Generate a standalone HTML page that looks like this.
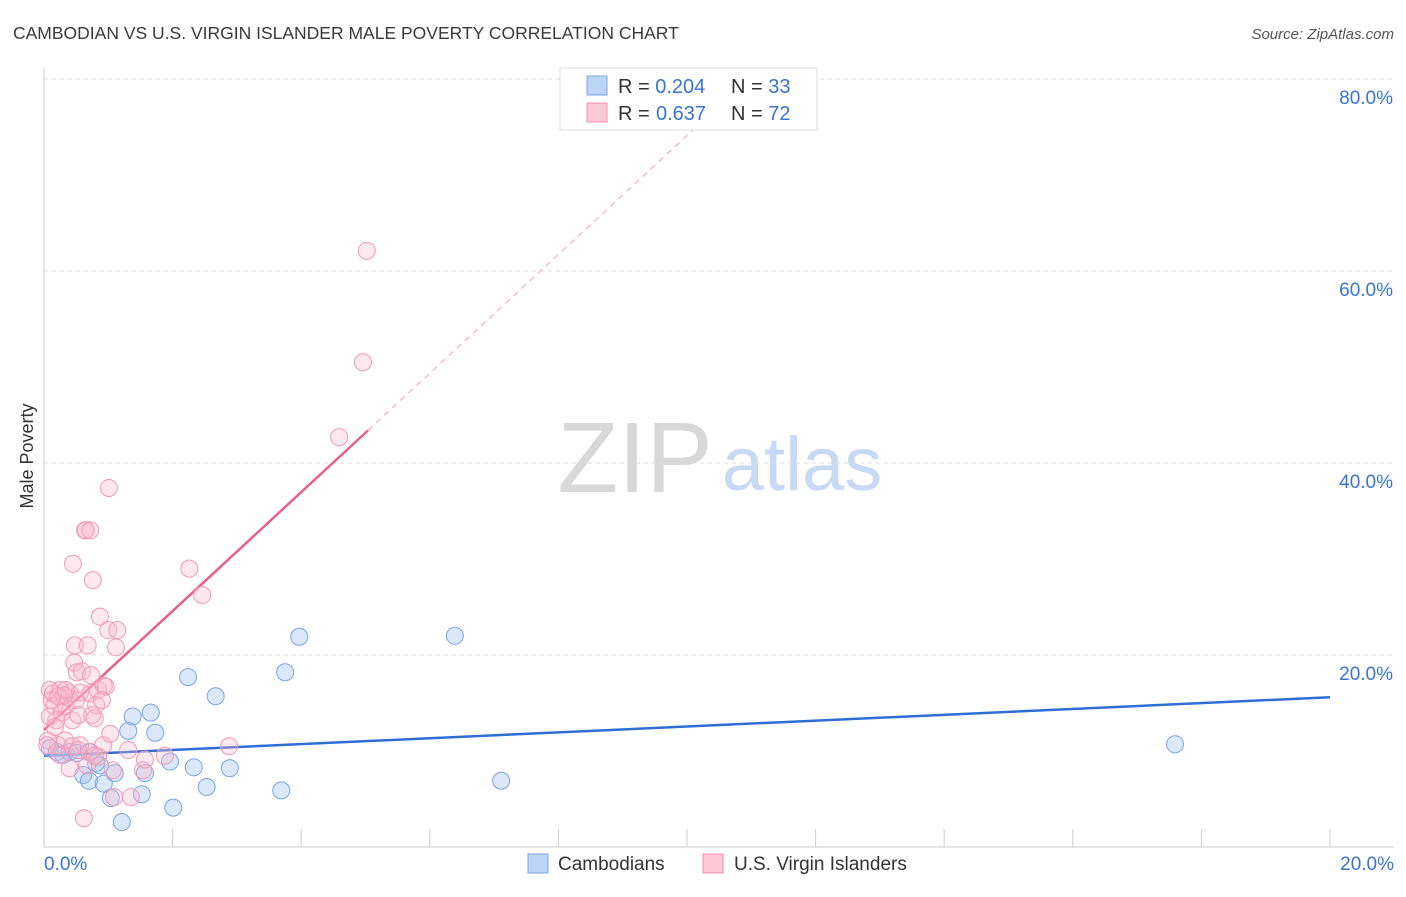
<!DOCTYPE html>
<html><head><meta charset="utf-8"><style>
body{margin:0;background:#fff;font-family:"Liberation Sans",sans-serif;}
svg text{font-family:"Liberation Sans",sans-serif;}
</style></head><body>
<svg id="chart" width="1406" height="892" xmlns="http://www.w3.org/2000/svg">
<text x="13" y="39" font-size="17.5" fill="#3a3a3a">CAMBODIAN VS U.S. VIRGIN ISLANDER MALE POVERTY CORRELATION CHART</text>
<text x="1394" y="39" font-size="15" fill="#555" font-style="italic" text-anchor="end">Source: ZipAtlas.com</text>
<text transform="translate(33,456) rotate(-90)" font-size="18" fill="#333" text-anchor="middle">Male Poverty</text>
<g>
<text x="635" y="492" font-size="100" fill="#d8d8d8" font-family="Liberation Serif,serif" text-anchor="middle">ZIP</text>
<text x="802" y="490" font-size="76" fill="#c8daf3" text-anchor="middle">atlas</text>
</g>
<g id="grid"></g><g id="axes"></g><g id="lines"></g><g id="pts"></g>
<g>
<rect x="560" y="68" width="257" height="62" fill="#fff" stroke="#ddd"/>
<rect x="587" y="76" width="20" height="19" fill="#bcd4f5" stroke="#7aa5e6"/>
<rect x="587" y="103" width="20" height="19" fill="#fbc9d8" stroke="#f08cab"/>
<text x="618" y="93" font-size="20" fill="#333">R = <tspan fill="#3a74d0">0.204</tspan><tspan x="731">N = </tspan><tspan fill="#3a74d0">33</tspan></text>
<text x="618" y="120" font-size="20" fill="#333">R = <tspan fill="#3a74d0" x="656">0.637</tspan><tspan x="731">N = </tspan><tspan fill="#3a74d0">72</tspan></text>
</g>
<g>
<rect x="528" y="854" width="20" height="19" fill="#bcd4f5" stroke="#7aa5e6"/>
<text x="558" y="870" font-size="19" fill="#333">Cambodians</text>
<rect x="703" y="854" width="20" height="19" fill="#fbc9d8" stroke="#f08cab"/>
<text x="734" y="870" font-size="19" fill="#333">U.S. Virgin Islanders</text>
</g>
</svg>
<script>
const blueX=[0.09,0.2,0.3,0.4,0.51,0.61,0.7,0.7,0.81,0.87,0.93,1.04,1.1,1.21,1.31,1.38,1.52,1.57,1.66,1.73,1.96,2.01,2.24,2.33,2.53,2.67,2.89,3.69,3.75,3.97,6.39,7.11,17.59];
const blueY=[10.3,9.9,9.6,9.9,9.8,7.5,6.9,9.9,8.75,8.5,6.6,5.1,7.7,2.6,12.1,13.6,5.5,7.7,14.0,11.9,8.9,4.1,17.7,8.3,6.25,15.7,8.2,5.9,18.2,21.9,22.0,6.9,10.7];
const pinkX=[0.09,0.12,0.16,0.19,0.22,0.06,0.09,0.14,0.25,0.28,0.34,0.37,0.4,0.44,0.45,0.47,0.48,0.5,0.51,0.53,0.56,0.59,0.62,0.64,0.65,0.67,0.68,0.72,0.72,0.73,0.75,0.76,0.79,0.81,0.84,0.87,0.92,0.93,0.96,1.0,1.01,1.03,1.07,1.09,1.12,1.14,1.31,1.35,1.54,1.57,1.88,2.26,2.46,2.88,4.59,4.96,5.02,0.05,0.25,0.33,0.4,0.56,0.72,0.84,0.31,0.22,0.17,0.79,0.9,0.34,0.44,0.53];
const pinkY=[16.35,15.3,14.7,13.2,10.6,11.1,13.6,16.0,16.35,14.0,14.7,15.6,16.0,13.2,29.5,19.2,21.0,15.3,18.2,13.75,16.1,18.3,3.0,33.0,33.0,8.5,21.0,33.0,16.0,17.9,13.75,27.8,13.4,14.8,16.35,24.0,10.6,16.8,16.7,22.6,37.4,11.8,8.0,5.2,20.8,22.6,10.1,5.2,8.0,9.1,9.5,29.0,26.25,10.5,42.7,50.5,62.1,10.6,9.6,11.1,8.2,10.6,9.9,9.4,15.8,15.7,12.5,9.5,15.3,16.35,10.5,10.1];
const yTicks=[20,40,60,80];
const yTickLabels=["20.0%","40.0%","60.0%","80.0%"];
const xTicks=[0,2,4,6,8,10,12,14,16,18,20];
const blueLine=[9.5,15.6];
const pinkLine=[12.2,43.4,5.04];
const NS="http://www.w3.org/2000/svg";
const sx=v=>44+v*64.3, sy=v=>847-v*9.6;
function mk(t,a,p){const e=document.createElementNS(NS,t);for(const k in a)e.setAttribute(k,a[k]);p.appendChild(e);return e;}
const grid=document.getElementById('grid'),axes=document.getElementById('axes'),lines=document.getElementById('lines'),pts=document.getElementById('pts');
yTicks.forEach((v,i)=>{
 const l=mk('line',{x1:44,x2:1394,y1:sy(v),y2:sy(v),stroke:'#ddd','stroke-dasharray':'4,4'},grid);
 
 
 const t=mk('text',{x:1393,y:sy(v)+25,'font-size':19,fill:'#3a74d0','text-anchor':'end'},axes);
 t.textContent=yTickLabels[i];
 
 
});
const ya=mk('line',{x1:44,x2:44,y1:68,y2:847,stroke:'#ccc'},axes);


const xa=mk('line',{x1:44,x2:1394,y1:847,y2:847,stroke:'#ccc'},axes);


xTicks.forEach(v=>{
 const t=mk('line',{x1:sx(v),x2:sx(v),y1:829,y2:847,stroke:'#ccc'},axes);
 
 
});
[[0,'0.0%','start',44],[20,'20.0%','end',1394]].forEach(d=>{
 const t=mk('text',{x:d[3],y:870,'font-size':19,fill:'#3a74d0','text-anchor':d[2]},axes);
 t.textContent=d[1];
 
 
});
for(let i=0;i<blueX.length;i++){
 const c=mk('circle',{cx:sx(blueX[i]),cy:sy(blueY[i]),r:8.5,fill:'rgba(160,195,240,0.38)',stroke:'#7aa5e6','stroke-width':1},pts);
 
 
}
for(let i=0;i<pinkX.length;i++){
 const c=mk('circle',{cx:sx(pinkX[i]),cy:sy(pinkY[i]),r:8.5,fill:'rgba(248,185,205,0.32)',stroke:'#f09ab5','stroke-width':1},pts);
 
 
}
const bl=mk('line',{x1:sx(0),y1:sy(blueLine[0]),x2:sx(20),y2:sy(blueLine[1]),stroke:'#2f6fd3','stroke-width':2.5},lines);


const slope=(pinkLine[1]-pinkLine[0])/pinkLine[2];
const pl=mk('line',{x1:sx(0),y1:sy(pinkLine[0]),x2:sx(pinkLine[2]),y2:sy(pinkLine[1]),stroke:'#e8608d','stroke-width':2.5},lines);


const xe=(80-pinkLine[0])/slope;
const pd=mk('line',{x1:sx(pinkLine[2]),y1:sy(pinkLine[1]),x2:sx(xe),y2:sy(80),stroke:'#f0a0b8','stroke-width':1,'stroke-dasharray':'6,5'},lines);


</script>
</body></html>
